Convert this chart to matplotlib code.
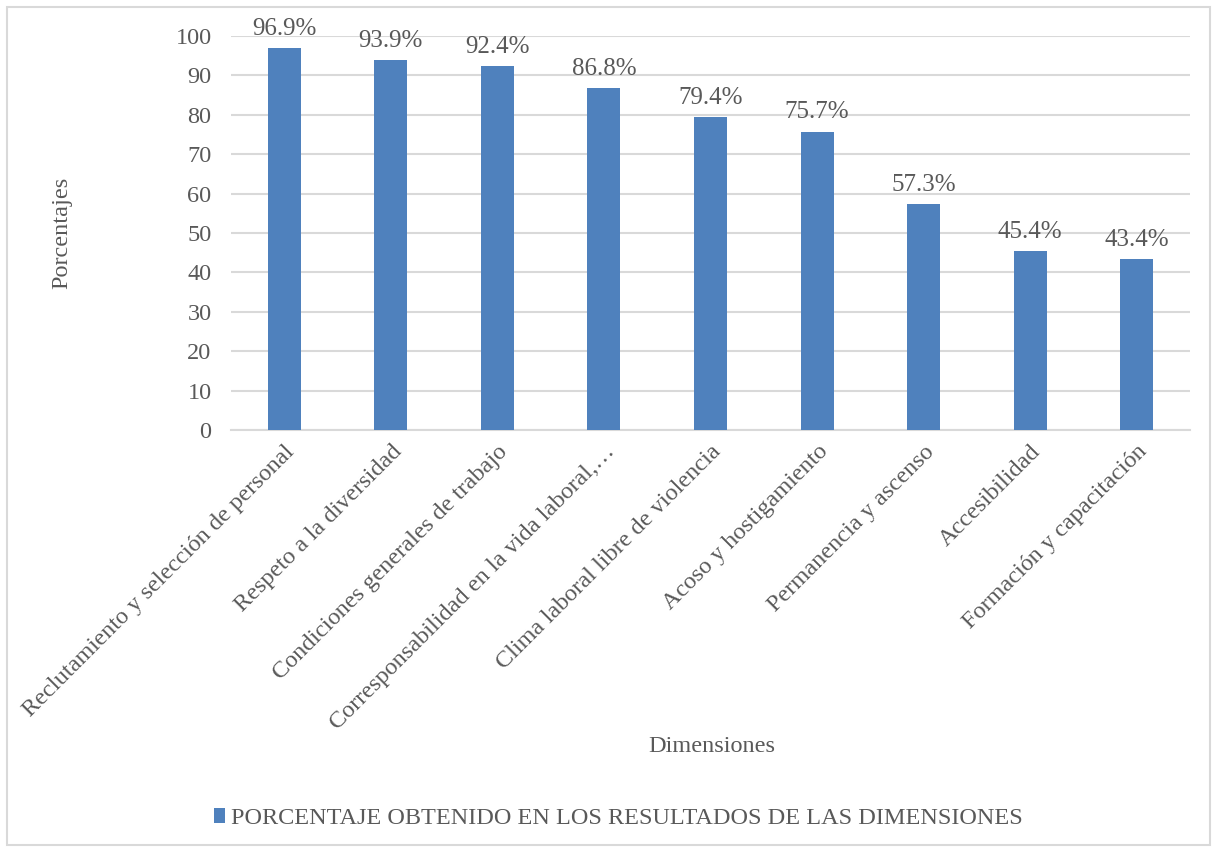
import matplotlib
matplotlib.use("Agg")
import matplotlib.pyplot as plt
from matplotlib.patches import Rectangle

categories = [
    "Reclutamiento y selección de personal",
    "Respeto a la diversidad",
    "Condiciones generales de trabajo",
    "Corresponsabilidad en la vida laboral,…",
    "Clima laboral libre de violencia",
    "Acoso y hostigamiento",
    "Permanencia y ascenso",
    "Accesibilidad",
    "Formación y capacitación",
]
values = [96.9, 93.9, 92.4, 86.8, 79.4, 75.7, 57.3, 45.4, 43.4]
yticks = [0, 10, 20, 30, 40, 50, 60, 70, 80, 90, 100]
series_name = "PORCENTAJE OBTENIDO EN LOS RESULTADOS DE LAS DIMENSIONES"

plt.rcParams['font.family'] = ['Liberation Serif', 'DejaVu Serif']
txt = '#595959'
bar_color = '#4F81BD'
fs = 17.5

fig = plt.figure(figsize=(12.17, 8.5), dpi=100)
ax = fig.add_axes([0.1898, 0.4941, 0.788, 0.4635])

x = list(range(len(categories)))
bars = ax.bar(x, values, width=0.31, color=bar_color, zorder=3, label=series_name)
ax.set_xlim(-0.5, len(categories) - 0.5)
ax.set_ylim(0, 100)
ax.set_yticks(yticks)
ax.set_yticklabels([str(t) for t in yticks], fontsize=fs, color=txt)
ax.grid(axis='y', color='#D9D9D9', linewidth=1.5, zorder=0)
for s in ['top', 'right', 'left']:
    ax.spines[s].set_visible(False)
ax.spines['bottom'].set_color('#D9D9D9')
ax.spines['bottom'].set_linewidth(1.5)
ax.tick_params(axis='y', length=0, pad=14)
ax.tick_params(axis='x', length=0, pad=8)
ax.set_xticks(x)
ax.set_xticklabels(categories, rotation=45, ha='right', rotation_mode='anchor',
                   fontsize=fs, color=txt)

for xi, v in zip(x, values):
    ax.annotate(f"{v:.1f}%", (xi, v), xytext=(0, 6), textcoords='offset points',
                ha='center', va='bottom', fontsize=18, color=txt)

ax.set_ylabel("Porcentajes", fontsize=fs, color=txt, labelpad=0)
ax.yaxis.set_label_coords(-0.165, 0.5)
fig.text(0.585, 0.122, "Dimensiones", fontsize=fs, color=txt, ha='center', va='center')

leg = fig.legend(handles=[bars], labels=[series_name], loc='center',
                 bbox_to_anchor=(0.508, 0.037), frameon=False, fontsize=fs,
                 handlelength=0.45, handleheight=0.6, handletextpad=0.25)
for t in leg.get_texts():
    t.set_color(txt)

fig.patches.append(Rectangle((0.006, 0.006), 0.988, 0.986, transform=fig.transFigure,
                             fill=False, edgecolor='#D9D9D9', linewidth=1.5))

fig.savefig("out.png", dpi=100)
